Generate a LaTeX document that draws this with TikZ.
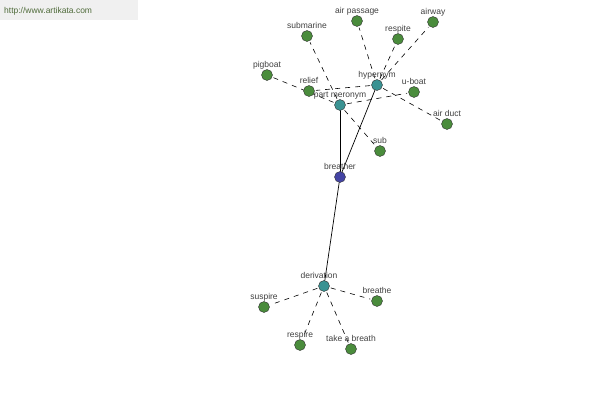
\documentclass[tikz,border=0pt]{standalone}
\usepackage{fontspec}
\setmainfont{Liberation Sans}
\begin{document}
\begin{tikzpicture}[x=1pt,y=-1pt,
  dot/.style={circle,draw=black!80,line width=0.4pt,minimum size=11pt,inner sep=0pt},
  leaf/.style={dot,fill=leafgreen},
  rel/.style={dot,fill=relteal},
  root/.style={dot,fill=rootblue},
  lab/.style={anchor=base,font=\fontsize{8.5}{9}\selectfont,text=black!75,inner sep=0pt},
  dline/.style={draw=black,line width=0.6pt,dash pattern=on 5pt off 5pt,shorten <=7pt,shorten >=7pt},
  sline/.style={draw=black,line width=0.7pt}]
\definecolor{leafgreen}{HTML}{4A8C3C}
\definecolor{relteal}{HTML}{3A9292}
\definecolor{rootblue}{HTML}{4444A4}
\definecolor{wmtext}{HTML}{4F6B3A}
\useasboundingbox (0,0) rectangle (600,400);
\fill[black!6] (0,0) rectangle (138,20);
\node[anchor=west,font=\fontsize{8.5}{9}\selectfont,text=wmtext,inner sep=0pt] (wm) at (4,11) {http://www.artikata.com};
\coordinate (pbreather) at (340,177);
\coordinate (phyp) at (377,85);
\coordinate (ppart) at (340,105);
\coordinate (pder) at (324,286);
\coordinate (psubmarine) at (307,36);
\coordinate (pairpassage) at (357,21);
\coordinate (prespite) at (398,39);
\coordinate (pairway) at (433,22);
\coordinate (ppigboat) at (267,75);
\coordinate (prelief) at (309,91);
\coordinate (puboat) at (414,92);
\coordinate (pairduct) at (447,124);
\coordinate (psub) at (380,151);
\coordinate (psuspire) at (264,307);
\coordinate (prespire) at (300,345);
\coordinate (ptake) at (351,349);
\coordinate (pbreathe) at (377,301);
% dashed edges
\draw[dline] (phyp) -- (pairpassage);
\draw[dline] (phyp) -- (prespite);
\draw[dline] (phyp) -- (pairway);
\draw[dline] (phyp) -- (prelief);
\draw[dline] (phyp) -- (pairduct);
\draw[dline] (ppart) -- (psubmarine);
\draw[dline] (ppart) -- (ppigboat);
\draw[dline] (ppart) -- (puboat);
\draw[dline] (ppart) -- (psub);
\draw[dline] (pder) -- (psuspire);
\draw[dline] (pder) -- (prespire);
\draw[dline] (pder) -- (ptake);
\draw[dline] (pder) -- (pbreathe);
% solid edges
\draw[sline] (pbreather) -- (phyp);
\draw[sline] (pbreather) -- (ppart);
\draw[sline] (pbreather) -- (pder);
% nodes
\node[root] (breather) at (pbreather) {};
\node[rel] (hyp) at (phyp) {};
\node[rel] (part) at (ppart) {};
\node[rel] (der) at (pder) {};
\foreach \n in {submarine,airpassage,respite,airway,pigboat,relief,uboat,airduct,sub,suspire,respire,take,breathe}
  \node[leaf] (\n) at (p\n) {};
% labels
\node[lab] (lbreather) at ([yshift=8pt]pbreather) {breather};
\node[lab] (lhyp) at ([yshift=8pt]phyp) {hypernym};
\node[lab] (lpart) at ([yshift=8pt]ppart) {part meronym};
\node[lab] (lder) at ([xshift=-5pt,yshift=8pt]pder) {derivation};
\node[lab] (lsubmarine) at ([yshift=8pt]psubmarine) {submarine};
\node[lab] (lairpassage) at ([yshift=8pt]pairpassage) {air passage};
\node[lab] (lrespite) at ([yshift=8pt]prespite) {respite};
\node[lab] (lairway) at ([yshift=8pt]pairway) {airway};
\node[lab] (lpigboat) at ([yshift=8pt]ppigboat) {pigboat};
\node[lab] (lrelief) at ([yshift=8pt]prelief) {relief};
\node[lab] (luboat) at ([yshift=8pt]puboat) {u-boat};
\node[lab] (lairduct) at ([yshift=8pt]pairduct) {air duct};
\node[lab] (lsub) at ([yshift=8pt]psub) {sub};
\node[lab] (lsuspire) at ([yshift=8pt]psuspire) {suspire};
\node[lab] (lrespire) at ([yshift=8pt]prespire) {respire};
\node[lab] (ltake) at ([yshift=8pt]ptake) {take a breath};
\node[lab] (lbreathe) at ([yshift=8pt]pbreathe) {breathe};
\end{tikzpicture}
\end{document}
